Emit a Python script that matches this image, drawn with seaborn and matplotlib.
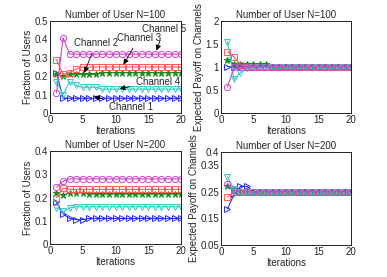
import numpy as np
import pandas as pd
import matplotlib
matplotlib.use("Agg")
import matplotlib.pyplot as plt
import seaborn as sns

iters = list(range(1, 21))
channels = ["Channel 1", "Channel 2", "Channel 3", "Channel 4", "Channel 5"]

# N=100, fraction of users
frac100_ch1 = [0.22, 0.08] + [0.08] * 18
frac100_ch2 = [0.21, 0.20, 0.21, 0.21, 0.21, 0.21, 0.21] + [0.22] * 13
frac100_ch3 = [0.29, 0.21, 0.22, 0.24] + [0.25] * 16
frac100_ch4 = [0.17, 0.10, 0.17, 0.15, 0.14, 0.14, 0.14] + [0.13] * 13
frac100_ch5 = [0.11, 0.41] + [0.32] * 18

# N=100, expected payoff
pay100_ch1 = [1.01] + [1.0] * 19
pay100_ch2 = [1.15, 1.07, 1.06, 1.06, 1.06, 1.06, 1.06] + [1.0] * 13
pay100_ch3 = [1.33, 1.22, 1.05] + [1.0] * 17
pay100_ch4 = [1.55, 0.73, 0.88, 0.98] + [1.0] * 16
pay100_ch5 = [0.57, 0.99] + [1.0] * 18

# N=200, fraction of users
frac200_ch1 = [0.18, 0.13, 0.11, 0.105, 0.105] + [0.11] * 15
frac200_ch2 = [0.22, 0.21, 0.22, 0.22, 0.22] + [0.215] * 15
frac200_ch3 = [0.20, 0.24] + [0.235] * 18
frac200_ch4 = [0.155, 0.14, 0.155] + [0.16] * 17
frac200_ch5 = [0.245, 0.27] + [0.28] * 18

# N=200, expected payoff
pay200_ch1 = [0.185, 0.24, 0.27, 0.27] + [0.25] * 16
pay200_ch2 = [0.27, 0.255] + [0.25] * 18
pay200_ch3 = [0.23, 0.25] + [0.25] * 18
pay200_ch4 = [0.305, 0.26] + [0.25] * 18
pay200_ch5 = [0.28, 0.255] + [0.25] * 18

colors = ["#2b2bff", "#1a8a1a", "#ff5a5a", "#33cccc", "#cc44cc"]
markers = [">", "*", "s", "v", "o"]
filled = [False, True, False, False, False]

FS = 7

sns.set_style("white")
plt.rcParams["font.family"] = ["Liberation Sans", "DejaVu Sans"]
plt.rcParams["font.size"] = FS
plt.rcParams["xtick.direction"] = "in"
plt.rcParams["ytick.direction"] = "in"

fig = plt.figure(figsize=(3.87, 2.77), dpi=100)
ax1 = fig.add_axes([0.129, 0.592, 0.339, 0.332])
ax2 = fig.add_axes([0.571, 0.592, 0.336, 0.332])
ax3 = fig.add_axes([0.129, 0.119, 0.339, 0.336])
ax4 = fig.add_axes([0.571, 0.116, 0.336, 0.336])


def draw(ax, series):
    for i, vals in enumerate(series):
        df = pd.DataFrame({"it": iters, "v": vals})
        kw = dict(marker=markers[i], markersize=4.5 if markers[i] != "*" else 5,
                  markeredgewidth=0.7, linewidth=0.8)
        if filled[i]:
            kw["markerfacecolor"] = colors[i]
        else:
            kw["markerfacecolor"] = "none"
        kw["markeredgecolor"] = colors[i]
        sns.lineplot(data=df, x="it", y="v", color=colors[i], ax=ax, **kw)
    ax.set_xlim(0, 20)
    ax.set_xticks([0, 5, 10, 15, 20])
    ax.set_xlabel("Iterations", fontsize=FS, labelpad=0.5)
    for s in ax.spines.values():
        s.set_color("black")
        s.set_linewidth(0.6)
    ax.tick_params(labelsize=FS, length=2, width=0.5, pad=1.5,
                   top=False, right=False)


draw(ax1, [frac100_ch1, frac100_ch2, frac100_ch3, frac100_ch4, frac100_ch5])
ax1.set_ylim(0, 0.5)
ax1.set_yticks([0, 0.1, 0.2, 0.3, 0.4, 0.5])
ax1.set_yticklabels(["0", "0.1", "0.2", "0.3", "0.4", "0.5"])
ax1.set_ylabel("Fraction of Users", fontsize=FS, labelpad=1)
ax1.set_title("Number of User N=100", fontsize=FS, pad=2)

ap = dict(arrowstyle="-|>", color="black", lw=0.6, mutation_scale=8)
ax1.annotate("Channel 5", xy=(16.1, 0.325), xytext=(17.4, 0.455),
             ha="center", va="center", fontsize=FS, arrowprops=ap)
ax1.annotate("Channel 3", xy=(11.0, 0.25), xytext=(13.6, 0.41),
             ha="center", va="center", fontsize=FS, arrowprops=ap)
ax1.annotate("Channel 2", xy=(5.1, 0.205), xytext=(7.0, 0.38),
             ha="center", va="center", fontsize=FS, arrowprops=ap)
ax1.annotate("Channel 4", xy=(10.2, 0.13), xytext=(16.5, 0.17),
             ha="center", va="center", fontsize=FS, arrowprops=ap)
ax1.annotate("Channel 1", xy=(6.3, 0.095), xytext=(12.4, 0.03),
             ha="center", va="center", fontsize=FS, arrowprops=ap)

draw(ax2, [pay100_ch1, pay100_ch2, pay100_ch3, pay100_ch4, pay100_ch5])
ax2.set_ylim(0, 2)
ax2.set_yticks([0, 0.5, 1, 1.5, 2])
ax2.set_yticklabels(["0", "0.5", "1", "1.5", "2"])
ax2.set_ylabel("Expected Payoff on Channels", fontsize=FS, labelpad=1)
ax2.set_title("Number of User N=100", fontsize=FS, pad=2)

draw(ax3, [frac200_ch1, frac200_ch2, frac200_ch3, frac200_ch4, frac200_ch5])
ax3.set_ylim(0, 0.4)
ax3.set_yticks([0, 0.1, 0.2, 0.3, 0.4])
ax3.set_yticklabels(["0", "0.1", "0.2", "0.3", "0.4"])
ax3.set_ylabel("Fraction of Users", fontsize=FS, labelpad=1)
ax3.set_title("Number of User N=200", fontsize=FS, pad=2)

draw(ax4, [pay200_ch1, pay200_ch2, pay200_ch3, pay200_ch4, pay200_ch5])
ax4.set_ylim(0.05, 0.4)
ax4.set_yticks([0.05, 0.15, 0.25, 0.35, 0.4])
ax4.set_yticklabels(["0.05", "0.15", "0.25", "0.35", "0.4"])
ax4.set_ylabel("Expected Payoff on Channels", fontsize=FS, labelpad=1)
ax4.set_title("Number of User N=200", fontsize=FS, pad=2)

fig.savefig("out.png", dpi=100)
